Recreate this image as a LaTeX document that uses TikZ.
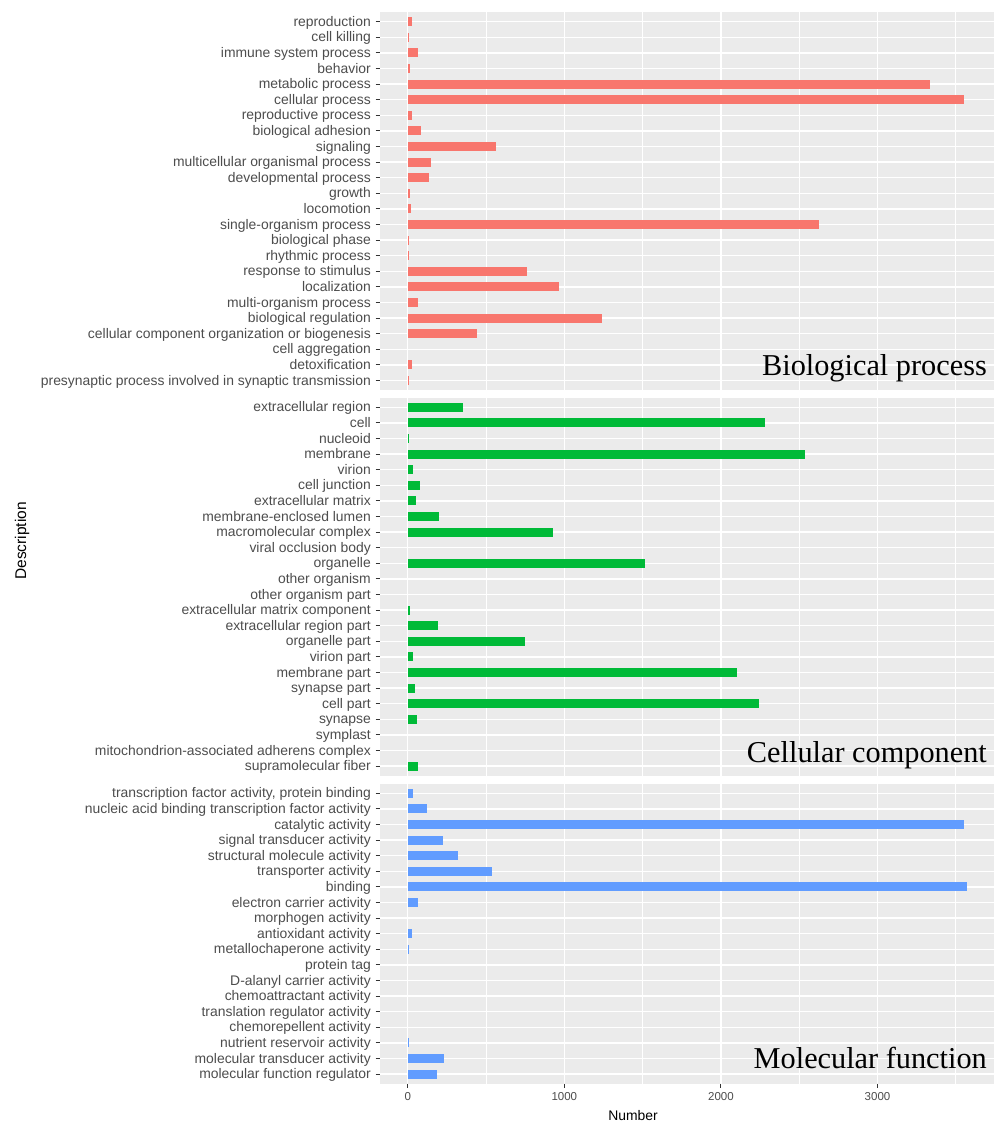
\documentclass[tikz,border=0pt]{standalone}
\usepackage{fontspec}
\setmainfont{Liberation Sans}
\newfontfamily\titlefont{Liberation Serif}
\definecolor{panelbg}{HTML}{EBEBEB}
\definecolor{bpcol}{HTML}{F8766D}
\definecolor{cccol}{HTML}{00BA38}
\definecolor{mfcol}{HTML}{619CFF}
\definecolor{axtext}{HTML}{4D4D4D}
\definecolor{axtick}{HTML}{333333}
\tikzset{
  panel/.style={fill=panelbg, draw=none},
  gridmajor/.style={draw=white, line width=1.5pt},
  gridminor/.style={draw=white, line width=0.7pt},
  ylab/.style={anchor=base east, inner sep=0pt, text=axtext, font=\fontsize{13.9}{16}\selectfont},
  xlab/.style={anchor=center, inner sep=0pt, text=axtext, font=\fontsize{11.5}{13}\selectfont},
  axtitle/.style={inner sep=0pt, text=black, font=\fontsize{13.9}{16}\selectfont},
  facettitle/.style={anchor=base east, inner sep=0pt, text=black, font=\titlefont\fontsize{30.3}{34}\selectfont},
  tickmark/.style={draw=axtick, line width=0.9pt},
}
\begin{document}
\begin{tikzpicture}[x=1pt,y=-1pt]
\useasboundingbox (0,0) rectangle (1000,1124);
\fill[white] (0,0) rectangle (1000,1124);
% x mapping: x = 407.7 + 0.1566*value
% panels
\foreach \pn/\top/\bot in {p1/12.3/389.8, p2/397.9/775.5, p3/784/1083.7} {
  \fill[panel] (380,\top) rectangle (994,\bot);
  \foreach \v in {500,1500,2500,3500}
    \draw[gridminor] ({407.7+0.1566*\v},\top) -- ({407.7+0.1566*\v},\bot);
  \foreach \v in {0,1000,2000,3000}
    \draw[gridmajor] ({407.7+0.1566*\v},\top) -- ({407.7+0.1566*\v},\bot);
}
% ---------- Biological process ----------
\foreach[count=\i] \lab/\val in {
  reproduction/25, cell killing/6, immune system process/68, behavior/15,
  metabolic process/3337, cellular process/3555, reproductive process/25,
  biological adhesion/85, signaling/562, multicellular organismal process/149,
  developmental process/138, growth/15, locomotion/23, single-organism process/2628,
  biological phase/8, rhythmic process/8, response to stimulus/764, localization/968,
  multi-organism process/66, biological regulation/1239,
  cellular component organization or biogenesis/443, cell aggregation/0,
  detoxification/30, presynaptic process involved in synaptic transmission/6} {
  \pgfmathsetmacro\yy{21.7+(\i-1)*15.6}
  \draw[gridmajor] (380,\yy) -- (994,\yy);
  \ifnum\val>0 \fill[bpcol] (407.7,\yy-4.5) rectangle ({407.7+0.1566*\val},\yy+4.5);\fi
  \node[ylab] (bp\i) at (371,\yy+4.6) {\lab};
  \draw[tickmark] (375.5,\yy) -- (380,\yy);
}
\node[facettitle] (bptitle) at (987,375) {Biological process};
% ---------- Cellular component ----------
\foreach[count=\i] \lab/\val in {
  extracellular region/351, cell/2282, nucleoid/6, membrane/2537, virion/36,
  cell junction/81, extracellular matrix/53, membrane-enclosed lumen/202,
  macromolecular complex/930, viral occlusion body/0, organelle/1516,
  other organism/0, other organism part/0, extracellular matrix component/13,
  extracellular region part/196, organelle part/747, virion part/36,
  membrane part/2103, synapse part/47, cell part/2244, synapse/60, symplast/0,
  mitochondrion-associated adherens complex/0, supramolecular fiber/66} {
  \pgfmathsetmacro\yy{407.3+(\i-1)*15.6}
  \draw[gridmajor] (380,\yy) -- (994,\yy);
  \ifnum\val>0 \fill[cccol] (407.7,\yy-4.5) rectangle ({407.7+0.1566*\val},\yy+4.5);\fi
  \node[ylab] (cc\i) at (371,\yy+4.6) {\lab};
  \draw[tickmark] (375.5,\yy) -- (380,\yy);
}
\node[facettitle] (cctitle) at (987,762) {Cellular component};
% ---------- Molecular function ----------
\foreach[count=\i] \lab/\val in {
  transcription factor activity{,} protein binding/32,
  nucleic acid binding transcription factor activity/123, catalytic activity/3552,
  signal transducer activity/228, structural molecule activity/319,
  transporter activity/538, binding/3571, electron carrier activity/68,
  morphogen activity/0, antioxidant activity/30, metallochaperone activity/8,
  protein tag/0, D-alanyl carrier activity/0, chemoattractant activity/0,
  translation regulator activity/0, chemorepellent activity/0,
  nutrient reservoir activity/6, molecular transducer activity/234,
  molecular function regulator/190} {
  \pgfmathsetmacro\yy{793.3+(\i-1)*15.6}
  \draw[gridmajor] (380,\yy) -- (994,\yy);
  \ifnum\val>0 \fill[mfcol] (407.7,\yy-4.5) rectangle ({407.7+0.1566*\val},\yy+4.5);\fi
  \node[ylab] (mf\i) at (371,\yy+4.6) {\lab};
  \draw[tickmark] (375.5,\yy) -- (380,\yy);
}
\node[facettitle] (mftitle) at (987,1068) {Molecular function};
% ---------- x axis ----------
\foreach \v in {0,1000,2000,3000} {
  \draw[tickmark] ({407.7+0.1566*\v},1083.7) -- ({407.7+0.1566*\v},1088);
  \node[xlab] (x\v) at ({407.7+0.1566*\v},1096.5) {\v};
}
\node[axtitle, anchor=base] (xtitle) at (633,1120) {Number};
\node[axtitle, rotate=90, font=\fontsize{15.5}{18}\selectfont] (ytitle) at (22,541) {Description};
\end{tikzpicture}
\end{document}
